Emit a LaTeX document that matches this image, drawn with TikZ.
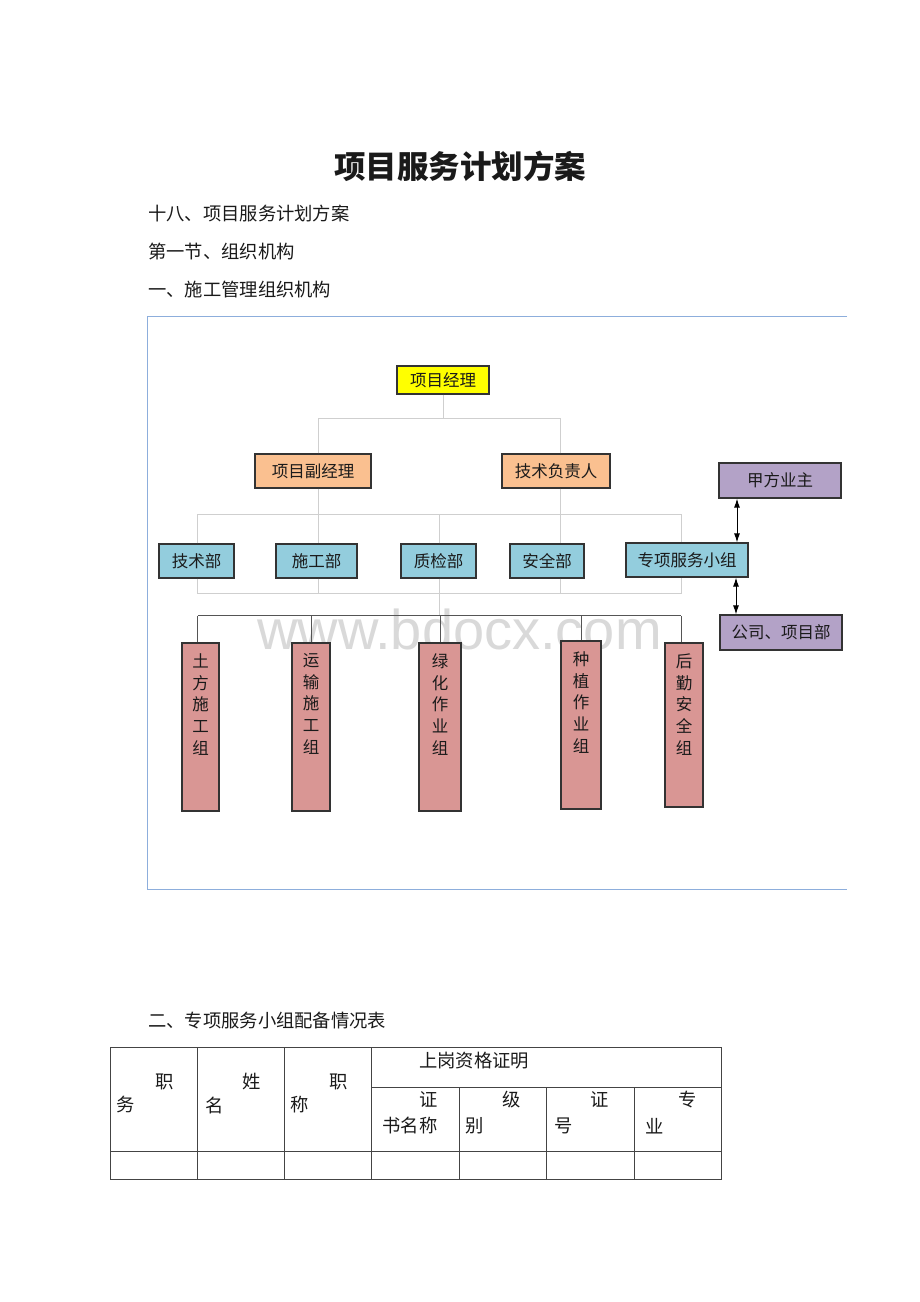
\documentclass[tikz,border=0pt]{standalone}
\usepackage{fontspec}
\newfontfamily\cjk{Noto Sans CJK SC}
\newfontfamily\wmfont{Liberation Sans}
\usetikzlibrary{arrows.meta}
\definecolor{cyel}{HTML}{FFFF00}
\definecolor{corange}{HTML}{FAC090}
\definecolor{cblue}{HTML}{93CDDD}
\definecolor{cpurple}{HTML}{B3A2C7}
\definecolor{cpink}{HTML}{D99694}
\definecolor{boxline}{HTML}{333333}
\definecolor{connc}{HTML}{CFCFCF}
\definecolor{darkc}{HTML}{555555}
\definecolor{framec}{HTML}{8DAEDC}
\definecolor{tablec}{HTML}{444444}
\definecolor{txt}{HTML}{1A1A1A}
\definecolor{wmc}{HTML}{D9D9D9}
\begin{document}
\begin{tikzpicture}[x=1pt,y=-1pt,
  box/.style={draw=boxline, line width=1.2pt, inner sep=0pt, text=txt,
    font=\cjk\fontsize{16.5}{16.5}\selectfont},
  tallbox/.style={box, fill=cpink},
  vtext/.style={inner sep=0pt, anchor=north, align=center, text=txt,
    font=\cjk\fontsize{16.5}{21.7}\selectfont},
  conn/.style={draw=connc, line width=1pt},
  darkconn/.style={draw=darkc, line width=1pt},
  dblarrow/.style={draw=black, line width=1pt, {Latex[length=9pt,width=6pt]}-{Latex[length=9pt,width=6pt]}},
  body/.style={inner sep=0pt, anchor=west, text=txt, font=\cjk\fontsize{18.3}{18.3}\selectfont},
  cell/.style={inner sep=0pt, text=txt, font=\cjk\fontsize{18.3}{18.3}\selectfont},
  tline/.style={draw=tablec, line width=1pt}
]
\useasboundingbox[fill=white] (0,0) rectangle (920,1302);

% headings
\node[inner sep=0pt, text=txt, font=\cjk\bfseries\fontsize{31.5}{31.5}\selectfont] (title) at (460,166) {项目服务计划方案};
\node[body] (h1) at (148,214) {十八、项目服务计划方案};
\node[body] (h2) at (148,252) {第一节、组织机构};
\node[body] (h3) at (148,290) {一、施工管理组织机构};

% frame
\draw[draw=framec, line width=1pt] (847,316) -- (147,316) -- (147,889) -- (847,889);

% watermark (behind)
\node[inner sep=0pt, text=wmc, font=\wmfont\fontsize{56}{56}\selectfont] (wm) at (459.5,629.5) {www.bdocx.com};

% boxes
\node[box, fill=cyel, minimum width=92pt, minimum height=28pt] (pm) at (443,380) {项目经理};
\node[box, fill=corange, minimum width=116pt, minimum height=34pt] (dpm) at (313,471) {项目副经理};
\node[box, fill=corange, minimum width=108pt, minimum height=34pt] (tech) at (556,471) {技术负责人};
\node[box, fill=cpurple, minimum width=122pt, minimum height=35pt] (owner) at (780,480.5) {甲方业主};
\node[box, fill=cblue, minimum width=75pt, minimum height=34pt] (d1) at (196.5,561) {技术部};
\node[box, fill=cblue, minimum width=81pt, minimum height=34pt] (d2) at (316.5,561) {施工部};
\node[box, fill=cblue, minimum width=75pt, minimum height=34pt] (d3) at (438.5,561) {质检部};
\node[box, fill=cblue, minimum width=74pt, minimum height=34pt] (d4) at (547,561) {安全部};
\node[box, fill=cblue, minimum width=122pt, minimum height=34pt] (d5) at (687,560) {专项服务小组};
\node[box, fill=cpurple, minimum width=122pt, minimum height=35pt] (co) at (781,632.5) {公司、项目部};

\node[tallbox, minimum width=37pt, minimum height=168pt] (g1) at (200.5,727) {};
\node[tallbox, minimum width=38pt, minimum height=168pt] (g2) at (311,727) {};
\node[tallbox, minimum width=42pt, minimum height=168pt] (g3) at (440,727) {};
\node[tallbox, minimum width=40pt, minimum height=168pt] (g4) at (581,725) {};
\node[tallbox, minimum width=38pt, minimum height=164pt] (g5) at (684,725) {};
\node[vtext] (t1) at ([yshift=-11pt]g1.north) {土\\方\\施\\工\\组};
\node[vtext] (t2) at ([yshift=-11pt]g2.north) {运\\输\\施\\工\\组};
\node[vtext] (t3) at ([yshift=-11pt]g3.north) {绿\\化\\作\\业\\组};
\node[vtext] (t4) at ([yshift=-11pt]g4.north) {种\\植\\作\\业\\组};
\node[vtext] (t5) at ([yshift=-11pt]g5.north) {后\\勤\\安\\全\\组};

% buses
\coordinate (busP) at (443,418);
\coordinate (busA) at (0,514);
\coordinate (busB) at (0,593);
\coordinate (busC) at (0,615.5);

% level 1
\draw[conn] (pm.south) -- (busP);
\draw[conn] ([xshift=5.5pt]dpm.north) |- (busP);
\draw[conn] ([xshift=4pt]tech.north) |- (busP);

% level 2
\draw[conn] ([xshift=1pt]d1.north) -- ([xshift=1pt]d1.north |- busA) -- ([xshift=-6pt]d5.north |- busA) -- ([xshift=-6pt]d5.north);
\draw[conn] ([xshift=5.5pt]dpm.south) -- ([xshift=2pt]d2.north);
\draw[conn] ([xshift=4pt]tech.south) -- ([xshift=13pt]d4.north);
\draw[conn] ([xshift=1pt]d3.north) -- ([xshift=1pt]d3.north |- busA);

% level 3
\draw[conn] ([xshift=1pt]d1.south) -- ([xshift=1pt]d1.south |- busB) -- ([xshift=-6pt]d5.south |- busB) -- ([xshift=-6pt]d5.south);
\draw[conn] ([xshift=2pt]d2.south) -- ([xshift=2pt]d2.south |- busB);
\draw[conn] ([xshift=1pt]d3.south) -- ([xshift=1pt]d3.south |- busC);
\draw[conn] ([xshift=13pt]d4.south) -- ([xshift=13pt]d4.south |- busB);

% level 4 (dark)
\draw[darkconn, line width=1.6pt] ([xshift=-3pt]g1.north |- busC) -- ([xshift=-3pt]g5.north |- busC);
\draw[darkconn] ([xshift=-3pt]g1.north) -- ([xshift=-3pt]g1.north |- busC);
\draw[darkconn] (g2.north) -- (g2.north |- busC);
\draw[darkconn] (g3.north) -- (g3.north |- busC);
\draw[darkconn] (g4.north) -- (g4.north |- busC);
\draw[darkconn] ([xshift=-3pt]g5.north) -- ([xshift=-3pt]g5.north |- busC);

% arrows
\draw[dblarrow] ([xshift=-43pt]owner.south) -- ([xshift=50pt]d5.north);
\draw[dblarrow] ([xshift=49pt]d5.south) -- ([xshift=-45pt]co.north);

% section 2
\node[body] (h4) at (148,1021) {二、专项服务小组配备情况表};

% table
\draw[tline] (110,1047.5) rectangle (721.5,1179);
\draw[tline] (371.9,1087.7) -- (721.5,1087.7);
\draw[tline] (110,1151.7) -- (721.5,1151.7);
\foreach \x in {197.3,284.6,371.9} \draw[tline] (\x,1047.5) -- (\x,1179);
\foreach \x in {459.2,546.6,634.1} \draw[tline] (\x,1087.7) -- (\x,1179);

\node[cell] (c0) at (474,1061) {上岗资格证明};
\node[cell] (c1a) at (165,1081.7) {职};
\node[cell] (c1b) at (125.7,1105) {务};
\node[cell] (c2a) at (251.7,1081.7) {姓};
\node[cell] (c2b) at (215,1105) {名};
\node[cell] (c3a) at (338.3,1081.7) {职};
\node[cell] (c3b) at (300,1105) {称};
\node[cell] (c4a) at (428.3,1100) {证};
\node[cell] (c4b) at (410,1126) {书名称};
\node[cell] (c5a) at (511.7,1100) {级};
\node[cell] (c5b) at (475,1126) {别};
\node[cell] (c6a) at (599.3,1100) {证};
\node[cell] (c6b) at (563.3,1126) {号};
\node[cell] (c7a) at (687.3,1100) {专};
\node[cell] (c7b) at (655,1126) {业};
\end{tikzpicture}
\end{document}
